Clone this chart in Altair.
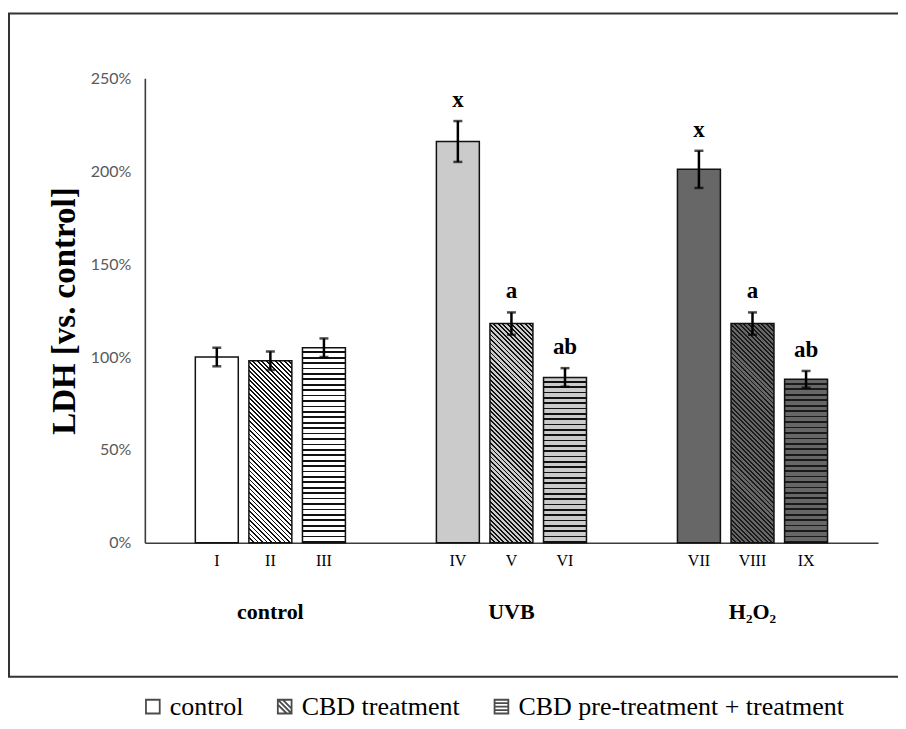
import math
import altair as alt
import pandas as pd

# ---------------- data ----------------
bar_labels = ["I", "II", "III", "IV", "V", "VI", "VII", "VIII", "IX"]
values = [1.00, 0.98, 1.05, 2.16, 1.18, 0.89, 2.01, 1.18, 0.88]
errors = [0.05, 0.05, 0.05, 0.11, 0.06, 0.05, 0.10, 0.06, 0.045]
sig_letters = ["", "", "", "x", "a", "ab", "x", "a", "ab"]
groups = ["control", "UVB", "H\u2082O\u2082"]
treatments = ["control", "CBD treatment", "CBD pre-treatment + treatment"]
y_ticks = [0, 0.5, 1.0, 1.5, 2.0, 2.5]

# ---------------- layout / style ----------------
PLOT_W, PLOT_H = 734, 465
Y_MAX = 2.5
BAR_W = 43
GROUP_STEP = 4.5
X_DOMAIN = [-1.25, 12.25]
group_bg = ["#ffffff", "#cbcbcb", "#676767"]
line_col = ["#111111", "#111111", "#1a1a1a"]
SERIF = "Liberation Serif"

rows = []
for i, lab in enumerate(bar_labels):
    g, s = divmod(i, 3)
    rows.append({
        "label": lab,
        "val": values[i],
        "err": errors[i],
        "lo": values[i] - errors[i],
        "hi": values[i] + errors[i],
        "sig": sig_letters[i],
        "pos": g * GROUP_STEP + s,
        "group": groups[g],
        "treat": treatments[s],
        "mid": values[i] / 2,
    })
df = pd.DataFrame(rows)
gdf = pd.DataFrame({"group": groups, "pos": [g * GROUP_STEP + 1 for g in range(3)]})


def hatch(h, bg, fg, period=3.2, frac=0.42):
    w = BAR_W
    m = (w + h) / (w * w + h * h)
    n = max(1, round((w + h) / math.sqrt(2) / period))
    stops = []
    for k in range(n):
        a, b, c = k / n, (k + frac) / n, (k + 1) / n
        stops += [{"offset": a, "color": fg}, {"offset": b, "color": fg},
                  {"offset": b, "color": bg}, {"offset": c, "color": bg}]
    return {"gradient": "linear", "x1": 0, "y1": 1, "x2": m * w, "y2": 1 - m * h,
            "stops": stops}


def stripes(h, bg, fg, period=5.4, frac=0.32):
    n = max(1, round(h / period))
    stops = []
    for k in range(n):
        c = (k + 1) / n
        stops += [{"offset": k / n, "color": bg}, {"offset": c - frac / n, "color": bg},
                  {"offset": c - frac / n, "color": fg}, {"offset": c, "color": fg}]
    return {"gradient": "linear", "x1": 0, "y1": 0, "x2": 0, "y2": 1, "stops": stops}


x_enc = alt.X("pos:Q", scale=alt.Scale(domain=X_DOMAIN, nice=False, zero=False),
              axis=alt.Axis(title=None, labels=False, ticks=False, grid=False,
                            domainColor="#3c3c3c", domainWidth=1.6))
y_enc = alt.Y("val:Q", scale=alt.Scale(domain=[0, Y_MAX], nice=False),
              axis=alt.Axis(title="LDH [vs. control]", values=y_ticks, format=".0%",
                            ticks=False, grid=False, domainColor="#3c3c3c", domainWidth=1.6,
                            labelFont="Lato", labelFontSize=16, labelColor="#595959",
                            labelPadding=14, titleFont=SERIF, titleFontSize=33,
                            titleFontWeight="bold", titleColor="#000000", titlePadding=9))

base = alt.Chart(df)

# outer frame
frame = alt.Chart(alt.Data(values=[{"f": 1}])).mark_rect(
    fill="#ffffff", fillOpacity=0, stroke="#333333", strokeWidth=2
).encode(x=alt.value(-136), x2=alt.value(PLOT_W + 200), y=alt.value(-65), y2=alt.value(599))

# hidden points that carry the legend
shape_paths = [
    "M-1,-1H1V1H-1Z",
    "M-1,-1H1V1H-1Z M-1,-1L1,1 M-0.3,-1L1,0.3 M-1,-0.3L0.3,1",
    "M-1,-1H1V1H-1Z M-1,-0.5H1 M-1,0H1 M-1,0.5H1",
]
legend_pts = base.mark_point(filled=False, color="black", size=10).encode(
    x=alt.X("pos:Q"), y=alt.Y("mid:Q"),
    shape=alt.Shape("treat:N", scale=alt.Scale(domain=treatments, range=shape_paths),
                    legend=alt.Legend(title=None, orient="none", legendX=-5, legendY=616,
                                      direction="horizontal", symbolSize=190,
                                      symbolStrokeWidth=1.8, symbolStrokeColor="#000000",
                                      symbolFillColor="#ffffff", labelFont=SERIF,
                                      labelFontSize=26, labelColor="#000000",
                                      labelOffset=4, columnPadding=28, labelLimit=500)),
)

bar_layers = []
for i, lab in enumerate(bar_labels):
    g, s = divmod(i, 3)
    h = values[i] * PLOT_H / Y_MAX
    if s == 0:
        fill = group_bg[g]
    elif s == 1:
        fill = hatch(h, group_bg[g], line_col[g])
    else:
        fill = stripes(h, group_bg[g], line_col[g])
    enc = dict(x=x_enc, y=y_enc) if i == 0 else dict(x="pos:Q", y="val:Q")
    bar_layers.append(
        base.transform_filter(alt.datum.label == lab)
        .mark_bar(width=BAR_W, fill=fill, stroke="#111111", strokeWidth=1.5)
        .encode(**enc)
    )

err_rule = base.mark_rule(color="#000000", strokeWidth=2.5).encode(
    x="pos:Q", y="lo:Q", y2="hi:Q")
cap_lo = base.mark_tick(orient="horizontal", color="#000000", size=9, thickness=2.5).encode(
    x="pos:Q", y="lo:Q")
cap_hi = base.mark_tick(orient="horizontal", color="#000000", size=9, thickness=2.5).encode(
    x="pos:Q", y="hi:Q")

letters = base.transform_filter(alt.datum.sig != "").mark_text(
    font=SERIF, fontSize=23, fontWeight="bold", color="#000000", baseline="bottom", dy=-9
).encode(x="pos:Q", y="hi:Q", text="sig:N")

numerals = base.mark_text(font=SERIF, fontSize=16, color="#000000", baseline="middle").encode(
    x="pos:Q", y=alt.value(PLOT_H + 18), text="label:N")

group_text = alt.Chart(gdf).mark_text(
    font=SERIF, fontSize=22, fontWeight="bold", color="#000000", baseline="middle"
).encode(x="pos:Q", y=alt.value(PLOT_H + 69), text="group:N")

chart = alt.layer(
    frame, legend_pts, *bar_layers, err_rule, cap_lo, cap_hi, letters, numerals, group_text
).properties(
    width=PLOT_W, height=PLOT_H,
    autosize=alt.AutoSizeParams(type="none"),
    padding={"left": 137, "top": 70, "right": 20, "bottom": 180},
    background="#ffffff",
).configure_view(strokeWidth=0).configure_axis(grid=False).configure_legend(
    labelFont=SERIF, labelFontSize=26, labelColor="#000000"
)

chart.save("out.html", embed_options={"renderer": "svg", "actions": False})
